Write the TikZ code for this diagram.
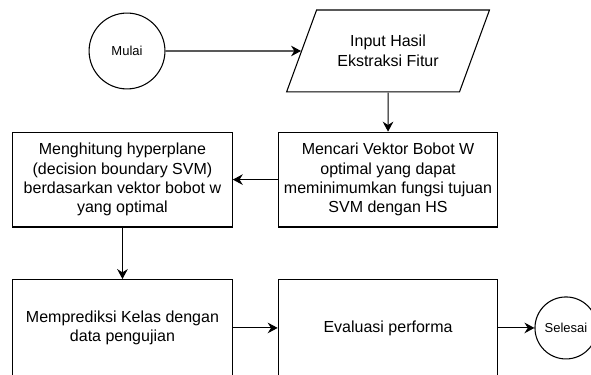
\documentclass[tikz,border=0pt]{standalone}
\usepackage{fontspec}
\setmainfont{Liberation Sans}
\usetikzlibrary{shapes.geometric, arrows.meta}
\tikzstyle{startstop} = [circle, minimum size=2cm, inner sep=0pt, text centered, draw=black, line width=0.8pt, font=\fontsize{9.75pt}{12pt}\selectfont]
\tikzstyle{io} = [trapezium, trapezium left angle=60, trapezium right angle=120, trapezium stretches=true, minimum width=5.35cm, minimum height=2.16cm, align=center, draw=black, line width=0.8pt, font=\fontsize{12pt}{14.6pt}\selectfont]
\tikzstyle{process} = [rectangle, minimum width=5.79cm, minimum height=2.5cm, align=center, draw=black, line width=0.8pt, font=\fontsize{12pt}{14.6pt}\selectfont]
\tikzstyle{arrow} = [line width=0.8pt, ->, >={Stealth[length=7.5pt, width=8pt, inset=2.5pt]}]

\begin{document}
\begin{tikzpicture}
\path[use as bounding box] (-3.348,1.344) rectangle (12.23,-8.515);
\clip (-3.348,1.344) rectangle (12.23,-8.515);

\node (start) [startstop] at (0,0) {Mulai};

\node (in1) [io, right of=start, xshift=5.88cm] {Input Hasil\\Ekstraksi Fitur};

\node (pro1) [process, below of=in1, yshift=-2.39cm] {Mencari Vektor Bobot W\\optimal yang dapat\\meminimumkan fungsi tujuan\\SVM dengan HS};

\node (pro2) [process, left of=pro1, xshift=-6cm] {Menghitung hyperplane\\(decision boundary SVM)\\berdasarkan vektor bobot w\\yang optimal};

\node (pro3) [process, below of=pro2, yshift=-2.91cm, minimum height=2.55cm] {Memprediksi Kelas dengan\\data pengujian};

\node (pro4) [process, right of=pro3, xshift=6cm, minimum height=2.55cm] {Evaluasi performa};

\node (stop) [startstop, right of=pro4, xshift=3.69cm, minimum size=1.634cm] {Selesai};
\draw [arrow] (start) -- (in1);
\draw [arrow] (in1) -- (pro1);
\draw [arrow] (pro1) -- (pro2);
\draw [arrow] (pro2) -- (pro3);
\draw [arrow] (pro3) -- (pro4);
\draw [arrow] (pro4) -- (stop);
\end{tikzpicture}
\end{document}
